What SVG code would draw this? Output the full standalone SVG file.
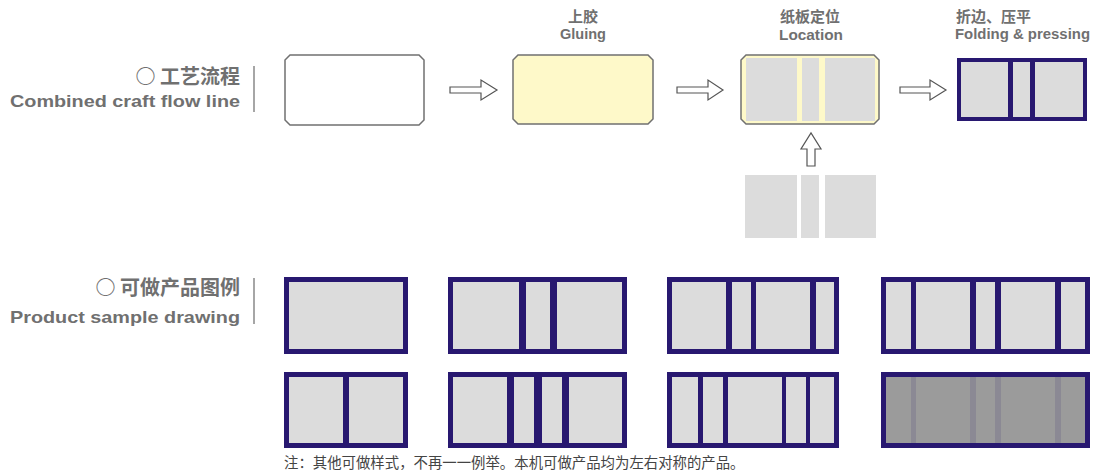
<svg xmlns="http://www.w3.org/2000/svg" width="1094" height="470" viewBox="0 0 1094 470">
<style>
.lbl{font-family:"Liberation Sans","Noto Sans CJK SC",sans-serif;font-weight:bold;fill:#707070}
.cn{font-family:"Noto Sans CJK SC",sans-serif;font-weight:bold;fill:#707070}
.box{stroke:#707070;stroke-width:1.5}
.arr{fill:#fff;stroke:#555;stroke-width:1.2}
.smp{fill:#dcdcdc;stroke:#281870;stroke-width:5}
.dv{fill:#281870}
.gp{fill:#dcdcdc}
.sep{stroke:#888;stroke-width:1.5}
</style>
<rect width="1094" height="470" fill="#fff"/>
<g id="title-flow">
<text class="cn" x="240" y="84" font-size="20" text-anchor="end">○ 工艺流程</text>
<text class="lbl" x="10" y="107" font-size="17" textLength="230" lengthAdjust="spacingAndGlyphs">Combined craft flow line</text>
<line class="sep" x1="254" y1="66" x2="254" y2="112"/>
</g>
<g id="title-sample">
<text class="cn" x="240" y="295" font-size="20" text-anchor="end">○ 可做产品图例</text>
<text class="lbl" x="10" y="323" font-size="17" textLength="230" lengthAdjust="spacingAndGlyphs">Product sample drawing</text>
<line class="sep" x1="254" y1="278" x2="254" y2="324"/>
</g>
<g id="step1">
<path class="box" fill="#fff" d="M290,55 H419 L424,60 V120 L419,125 H290 L285,120 V60 Z"/>
</g>
<g id="step2">
<text class="cn" x="583" y="22" font-size="15" text-anchor="middle">上胶</text>
<text class="lbl" x="560" y="39" font-size="14" textLength="46" lengthAdjust="spacingAndGlyphs">Gluing</text>
<path class="box" fill="#fef9c9" d="M518,55 H648 L653,60 V119 L648,124 H518 L513,119 V60 Z"/>
</g>
<g id="step3">
<text class="cn" x="810" y="22" font-size="15" text-anchor="middle">纸板定位</text>
<text class="lbl" x="779" y="40" font-size="14" textLength="64" lengthAdjust="spacingAndGlyphs">Location</text>
<path class="box" fill="#fef9c9" d="M746,55 H874 L879,60 V119 L874,124 H746 L741,119 V60 Z"/>
<rect class="gp" x="746" y="58" width="51" height="63"/>
<rect class="gp" x="802" y="58" width="17" height="63"/>
<rect class="gp" x="825" y="58" width="50" height="63"/>
</g>
<g id="step4">
<text class="cn" x="956" y="22" font-size="15">折边、压平</text>
<text class="lbl" x="955" y="39" font-size="14" textLength="135" lengthAdjust="spacingAndGlyphs">Folding &amp; pressing</text>
<rect x="959" y="60" width="126" height="59" fill="#dcdcdc" stroke="#281870" stroke-width="4"/>
<rect class="dv" x="1008" y="60" width="5" height="59"/>
<rect class="dv" x="1030" y="60" width="5" height="59"/>
</g>
<g id="boards">
<rect class="gp" x="745" y="175" width="52" height="63"/>
<rect class="gp" x="801" y="175" width="18" height="63"/>
<rect class="gp" x="825" y="175" width="51" height="63"/>
</g>
<g id="connectors">
<path class="arr" d="M450,87 H481 V80 L497,90 L481,100 V93 H450 Z"/>
<path class="arr" d="M677,87 H708 V80 L723,90 L708,100 V93 H677 Z"/>
<path class="arr" d="M900,87 H930 V80 L946,90 L930,100 V93 H900 Z"/>
<path class="arr" d="M807,166 V149 H801 L811,133 L821,149 H815 V166 Z"/>
</g>
<g id="sample-r1c1"><rect class="smp" x="286.5" y="279.5" width="119" height="72"/></g>
<g id="sample-r1c2"><rect class="smp" x="450.5" y="279.5" width="174" height="72"/>
<rect class="dv" x="519" y="277" width="7" height="77"/><rect class="dv" x="550" y="277" width="7" height="77"/></g>
<g id="sample-r1c3"><rect class="smp" x="669.5" y="279.5" width="167" height="72"/>
<rect class="dv" x="726" y="277" width="6" height="77"/><rect class="dv" x="751" y="277" width="5" height="77"/><rect class="dv" x="810" y="277" width="6" height="77"/></g>
<g id="sample-r1c4"><rect class="smp" x="883.5" y="279.5" width="204" height="72"/>
<rect class="dv" x="911" y="277" width="5" height="77"/><rect class="dv" x="970" y="277" width="6" height="77"/><rect class="dv" x="995" y="277" width="6" height="77"/><rect class="dv" x="1055" y="277" width="6" height="77"/></g>
<g id="sample-r2c1"><rect class="smp" x="286.5" y="374.5" width="119" height="71"/>
<rect class="dv" x="343" y="372" width="6" height="76"/></g>
<g id="sample-r2c2"><rect class="smp" x="450.5" y="374.5" width="174" height="71"/>
<rect class="dv" x="507" y="372" width="7" height="76"/><rect class="dv" x="534" y="372" width="8" height="76"/><rect class="dv" x="562" y="372" width="7" height="76"/></g>
<g id="sample-r2c3"><rect class="smp" x="669.5" y="374.5" width="167" height="71"/>
<rect class="dv" x="698" y="372" width="5" height="76"/><rect class="dv" x="723" y="372" width="5" height="76"/><rect class="dv" x="782" y="372" width="4" height="76"/><rect class="dv" x="806" y="372" width="4" height="76"/></g>
<g id="sample-r2c4"><rect x="883.5" y="374.5" width="204" height="71" fill="#9b9b9b" stroke="#281870" stroke-width="5"/>
<g fill="#8b8994"><rect x="911" y="377" width="5" height="66"/><rect x="970" y="377" width="6" height="66"/><rect x="995" y="377" width="6" height="66"/><rect x="1055" y="377" width="6" height="66"/></g></g>
<text x="284" y="468" font-size="14.4" font-family="Noto Sans CJK SC,sans-serif" fill="#444">注：其他可做样式，不再一一例举。本机可做产品均为左右对称的产品。</text>
</svg>
